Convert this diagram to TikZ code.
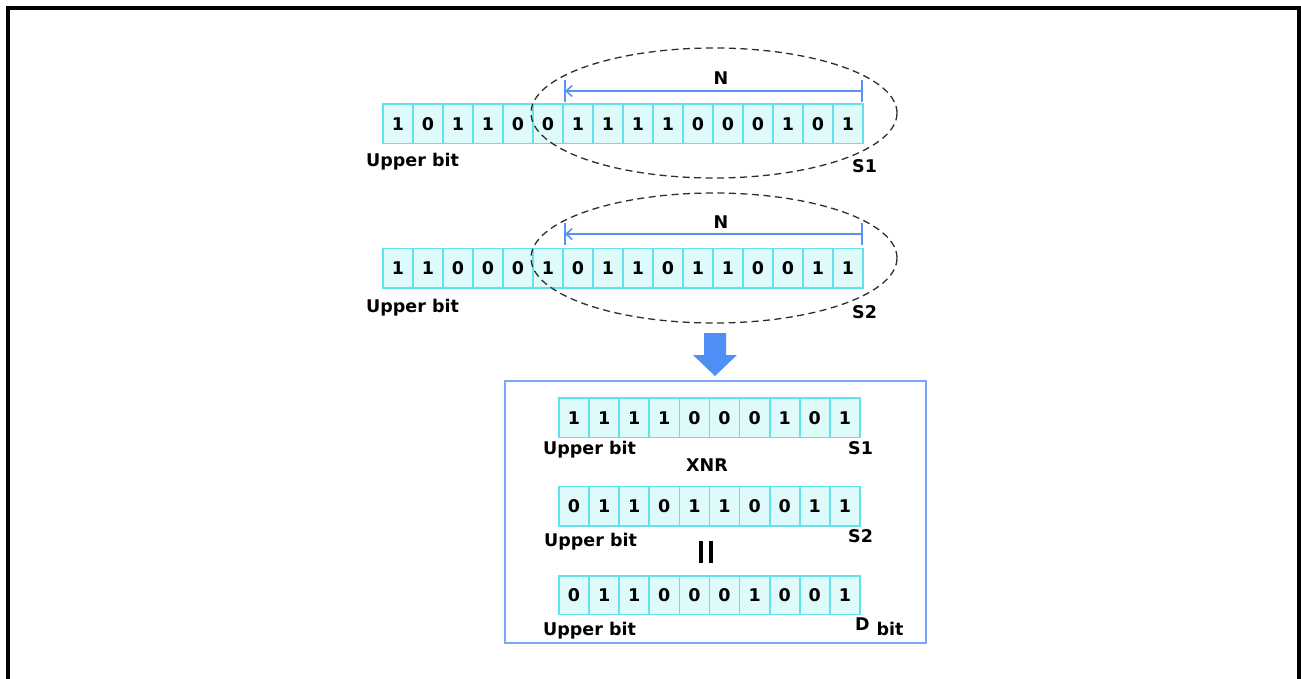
\documentclass[tikz,border=0pt]{standalone}
\usepackage{fontspec}
\setmainfont{DejaVu Sans}
\usetikzlibrary{shapes.geometric,arrows.meta}
\definecolor{cellfill}{HTML}{DEFAFA}
\definecolor{celldraw}{HTML}{62E2EA}
\definecolor{nblue}{HTML}{5B91F5}
\definecolor{bigblue}{HTML}{4F8EF5}
\definecolor{boxblue}{HTML}{7AA6F7}
\definecolor{dashgray}{HTML}{2E2E2E}
\begin{document}
\begin{tikzpicture}[x=1pt,y=-1pt,
  txt/.style={font=\bfseries\fontsize{17.5}{17.5}\selectfont},
  cell/.style={txt, draw=celldraw, fill=cellfill, line width=1.6pt, minimum width=30pt, minimum height=39.5pt, inner sep=0pt},
  lbl/.style={txt, anchor=base west, inner sep=0pt},
  clbl/.style={txt, anchor=base, inner sep=0pt},
  oval/.style={ellipse, draw=dashgray, dash pattern=on 7pt off 4.5pt, line width=1.3pt, minimum width=366pt, minimum height=130pt, inner sep=0pt},
  nline/.style={draw=nblue, line width=1.6pt},
  narrow/.style={nline, -{Straight Barb[length=6pt,width=11pt,line width=1.6pt]}},
  bigarrow/.style={fill=bigblue, draw=none},
  resbox/.style={draw=boxblue, line width=2pt},
  frame/.style={draw=black, line width=4.5pt}]
\useasboundingbox (0,0) rectangle (1301,679);
\draw[frame] (7.8,679) -- (7.8,7.8) -- (1298.9,7.8) -- (1298.9,679);

% ---- top row S1 ----
\foreach \b [count=\i] in {1,0,1,1,0,0,1,1,1,1,0,0,0,1,0,1}
  \node[cell] (a\i) at ({398+30*(\i-1)}, 123.75) {\b};
\node[oval] (e1) at (714,113) {};
\coordinate (n1l) at (565,91);
\coordinate (n1r) at (862,91);
\draw[nline] (565,80) -- (565,102);
\draw[nline] (862,80) -- (862,102);
\draw[narrow] (n1r) -- (n1l);
\node[clbl] (N1) at (721,85) {N};
\node[lbl] (ub1) at (366,167) {Upper bit};
\node[lbl] (s1a) at (852,173) {S1};

% ---- second row S2 ----
\foreach \b [count=\i] in {1,1,0,0,0,1,0,1,1,0,1,1,0,0,1,1}
  \node[cell] (b\i) at ({398+30*(\i-1)}, 268.3) {\b};
\node[oval] (e2) at (714,258) {};
\coordinate (n2l) at (565,234);
\coordinate (n2r) at (862,234);
\draw[nline] (565,223) -- (565,245);
\draw[nline] (862,223) -- (862,245);
\draw[narrow] (n2r) -- (n2l);
\node[clbl] (N2) at (721,229) {N};
\node[lbl] (ub2) at (366,312) {Upper bit};
\node[lbl] (s2a) at (852,318) {S2};

% ---- big arrow ----
\fill[bigarrow] (704,333) -- (726,333) -- (726,355) -- (737,355) -- (715,376) -- (693,355) -- (704,355) -- cycle;

% ---- result box ----
\draw[resbox] (505,381) rectangle (926,643);

\foreach \b [count=\i] in {1,1,1,1,0,0,0,1,0,1}
  \node[cell, minimum height=39.3pt] (c\i) at ({574+30.1*(\i-1)}, 417.7) {\b};
\node[lbl] (ub3) at (543,454) {Upper bit};
\node[lbl] (s1b) at (848,454) {S1};
\node[clbl] (xnr) at (707,471.7) {XNR};

\foreach \b [count=\i] in {0,1,1,0,1,1,0,0,1,1}
  \node[cell, minimum height=39.3pt] (d\i) at ({574+30.1*(\i-1)}, 506.3) {\b};
\node[lbl] (ub4) at (544,546) {Upper bit};
\node[lbl] (s2b) at (848,542.7) {S2};

\draw[line width=3.8pt] (701,541) -- (701,563);
\draw[line width=3.8pt] (711.3,541) -- (711.3,563);

\foreach \b [count=\i] in {0,1,1,0,0,0,1,0,0,1}
  \node[cell, minimum height=38.6pt] (f\i) at ({574+30.1*(\i-1)}, 595) {\b};
\node[lbl] (ub5) at (543,635) {Upper bit};
\node[lbl] (dlab) at (855,630) {D};
\node[lbl] (bitlab) at (876.5,635) {bit};
\end{tikzpicture}
\end{document}
